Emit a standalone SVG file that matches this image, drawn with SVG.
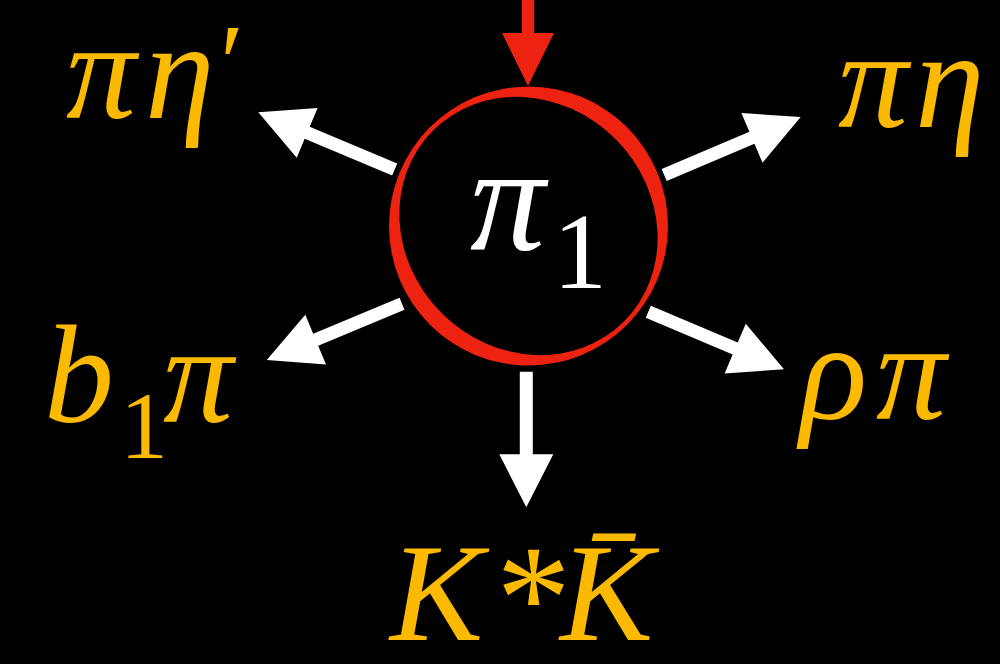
<svg xmlns="http://www.w3.org/2000/svg" width="1000" height="664" viewBox="0 0 1000 664">
<style>
.arrow{fill:#FFFFFF}
</style>
<rect x="0" y="0" width="1000" height="664" fill="#000000"/>
<g id="source">
<path d="M521.8,0 L534.2,0 L534.2,33 L554,33 L528,86 L502,33 L521.8,33 Z" fill="#EE2211"/>
</g>
<g id="pi1">
<circle cx="528.5" cy="226" r="139.5" fill="#EE2211"/>
<ellipse cx="528.5" cy="226" rx="135" ry="123" transform="rotate(45 528.5 226)" fill="#000000"/>
<text font-family="Liberation Serif, serif" font-style="italic" font-size="150" fill="#FFFFFF" x="470" y="250">π<tspan font-style="normal" x="553" y="288" font-size="108">1</tspan></text>
</g>
<g id="connectors">
<path class="arrow" transform="translate(394.7,169.5) rotate(202.75)" d="M0,-6.5 H94.9 V-27 L147.9,0 L94.9,27 V6.5 H0 Z"/>
<path class="arrow" transform="translate(664.2,175) rotate(-22.98)" d="M0,-6.5 H95.3 V-27 L148.3,0 L95.3,27 V6.5 H0 Z"/>
<path class="arrow" transform="translate(402,303.7) rotate(157.4)" d="M0,-6.5 H93.5 V-27 L146.5,0 L93.5,27 V6.5 H0 Z"/>
<path class="arrow" transform="translate(648.3,311.7) rotate(23)" d="M0,-6.5 H94.4 V-27 L147.4,0 L94.4,27 V6.5 H0 Z"/>
<path class="arrow" transform="translate(526.3,371.7) rotate(90)" d="M0,-6.5 H82.6 V-27 L135.6,0 L82.6,27 V6.5 H0 Z"/>
</g>
<g id="labels" font-family="Liberation Serif, serif" font-style="italic" font-size="140" fill="#FBBA00">
<g id="pieta-prime">
<text x="66" y="118">π<tspan x="145">η</tspan><tspan font-style="normal" x="220" y="100" font-size="110">′</tspan></text>
</g>
<g id="pieta">
<text x="838" y="127">π<tspan x="915">η</tspan></text>
</g>
<g id="b1pi">
<text x="44" y="422">b<tspan font-style="normal" x="120" y="458" font-size="96">1</tspan><tspan x="163" y="422">π</tspan></text>
</g>
<g id="rhopi">
<text x="800" y="419">ρ<tspan x="876">π</tspan></text>
</g>
<g id="kstarkbar">
<text x="390" y="640">K<tspan font-style="normal" x="496" y="648" font-size="150">*</tspan><tspan x="560" y="640">K̄</tspan></text>
</g>
</g>
</svg>
